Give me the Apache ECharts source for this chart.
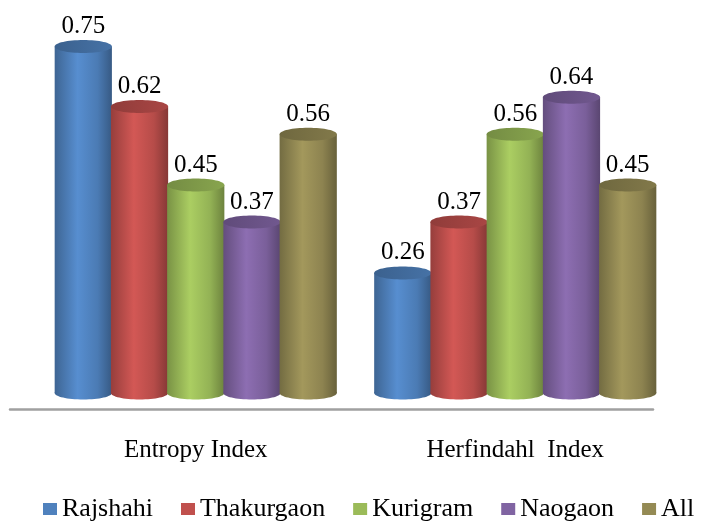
<!DOCTYPE html>
<html>
<head>
<meta charset="utf-8">
<script src="https://cdn.jsdelivr.net/npm/echarts@6/dist/echarts.min.js"></script>
<style>
  html, body { margin: 0; padding: 0; background: #fff; }
  #main { width: 705px; height: 526px; }
</style>
</head>
<body>
<div id="main"></div>
<script>
var categories = ['Entropy Index', 'Herfindahl  Index'];
var regions = ['Rajshahi', 'Thakurgaon', 'Kurigram', 'Naogaon', 'All'];
var rajshahi = [0.75, 0.26];
var thakurgaon = [0.62, 0.37];
var kurigram = [0.45, 0.56];
var naogaon = [0.37, 0.64];
var all = [0.56, 0.45];
var seriesValues = [rajshahi, thakurgaon, kurigram, naogaon, all];
var colors = ['#4F81BD', '#C0504D', '#9BBB59', '#8064A2', '#948A54'];

var FONT = "'Liberation Serif', 'Times New Roman', serif";

// scale a hex colour, f<1 darker, f>1 lighter
function shade(hex, f) {
    var n = parseInt(hex.slice(1), 16);
    var c = [(n >> 16) & 255, (n >> 8) & 255, n & 255].map(function(v) {
        return Math.max(0, Math.min(255, Math.round(v * f)));
    });
    return 'rgb(' + c.join(',') + ')';
}

function bodyFill(hex) {
    return new echarts.graphic.LinearGradient(0, 0, 1, 0, [
        {offset: 0, color: shade(hex, 0.78)},
        {offset: 0.4, color: shade(hex, 1.1)},
        {offset: 0.75, color: shade(hex, 0.95)},
        {offset: 1, color: shade(hex, 0.7)}
    ]);
}

function cylinder(params, api) {
    var cat = api.value(0), val = api.value(1);
    var base = api.coord([cat, 0]);
    var top = api.coord([cat, val]);
    var band = api.size([1, 0])[0];
    var step = band * 0.176;
    var w = step + 1;
    var cx = base[0] + (params.seriesIndex - 2) * step;
    var eh = 6.5;
    var col = colors[params.seriesIndex];
    return {
        type: 'group',
        children: [
            {type: 'ellipse', shape: {cx: cx, cy: base[1], rx: w / 2, ry: eh}, style: {fill: bodyFill(col)}},
            {type: 'rect', shape: {x: cx - w / 2, y: top[1], width: w, height: base[1] - top[1]}, style: {fill: bodyFill(col)}},
            {type: 'ellipse', shape: {cx: cx, cy: top[1], rx: w / 2, ry: eh},
                style: {fill: new echarts.graphic.LinearGradient(0, 0, 1, 0, [
                    {offset: 0, color: shade(col, 0.75)},
                    {offset: 1, color: shade(col, 0.88)}
                ])}},
            {type: 'text', x: cx, y: top[1] - eh - 1,
                style: {text: String(val), font: '25px ' + FONT, fill: '#000', align: 'center', verticalAlign: 'bottom'}}
        ]
    };
}

var chart = echarts.init(document.getElementById('main'));

var series = regions.map(function(name, i) {
    return {
        name: name,
        type: 'custom',
        xAxisIndex: 0,
        yAxisIndex: 0,
        itemStyle: {color: colors[i]},
        renderItem: cylinder,
        encode: {x: 0, y: 1},
        data: seriesValues[i].map(function(v, j) { return [j, v]; })
    };
});

var option = {
    animation: false,
    backgroundColor: '#fff',
    grid: [
        {left: 36, right: 30, top: 23.4, bottom: 133},
        {left: 10, right: 52, top: 23.4, bottom: 116.5}
    ],
    legend: {
        data: regions,
        left: 38,
        top: 491,
        itemWidth: 14,
        itemHeight: 12,
        itemGap: 28,
        icon: 'rect',
        textStyle: {fontFamily: FONT, fontSize: 26, color: '#000'}
    },
    xAxis: [
        {
            type: 'category',
            gridIndex: 0,
            data: categories,
            axisLine: {show: false},
            axisTick: {show: false},
            axisLabel: {fontFamily: FONT, fontSize: 25, color: '#000', margin: 45}
        },
        {
            type: 'value',
            gridIndex: 1,
            min: 0,
            max: 1,
            axisLine: {show: true, lineStyle: {color: '#A0A0A0', width: 2.5}},
            axisTick: {show: false},
            axisLabel: {show: false},
            splitLine: {show: false}
        }
    ],
    yAxis: [
        {type: 'value', gridIndex: 0, min: 0, max: 0.8, show: false},
        {type: 'value', gridIndex: 1, min: 0, max: 1, show: false}
    ],
    series: series
};

chart.setOption(option);
</script>
</body>
</html>
